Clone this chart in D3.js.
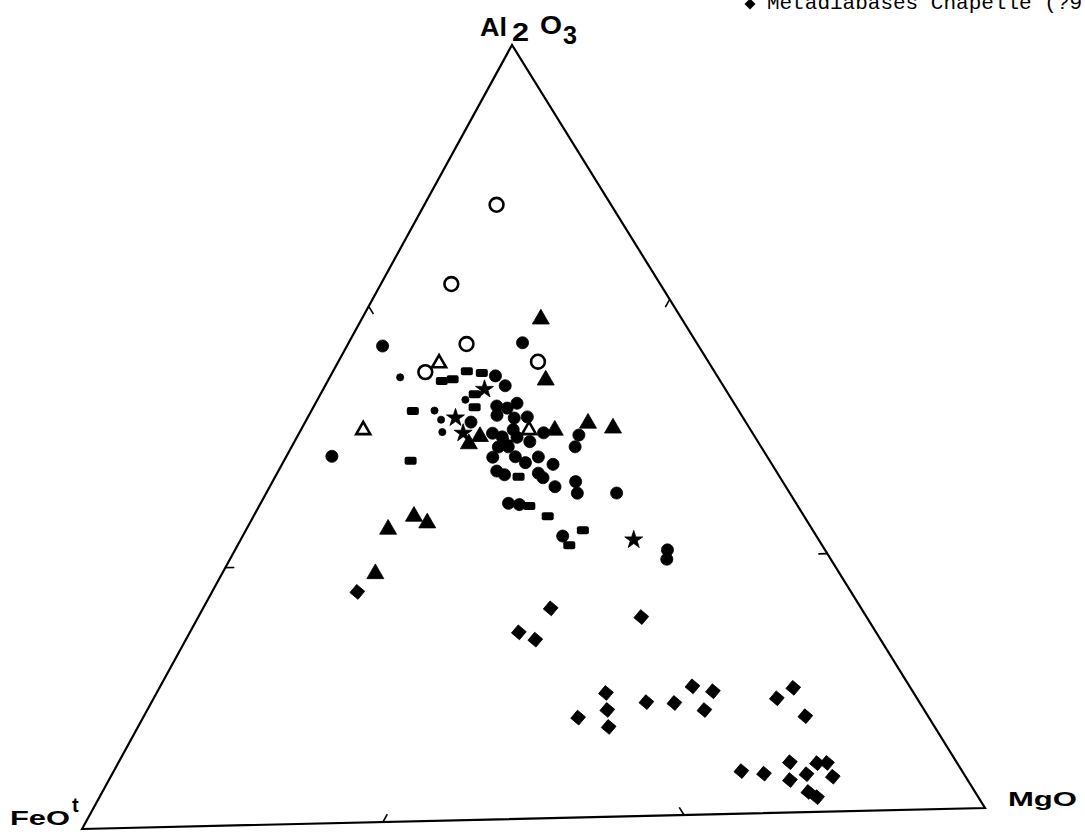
<!doctype html>
<html>
    <head>
        <script src="https://d3js.org/d3.v7.min.js"></script>
        <style>
            body,
            html {
                margin: 0;
                padding: 0;
                overflow: hidden;
                background: #fff;
            }
        </style>
    </head>
    <body>
        <script>
            // compositions, [FeOt, MgO, Al2O3] in %
            const openCircles = [
                [12.5, 8.1, 79.4], [22.8, 7.9, 69.3], [25.2, 13.3, 61.5],
                [18.6, 22.4, 59.0], [31.6, 10.4, 58.0],
            ];
            const openTriangles = [
                [29.5, 11.4, 59.1], [42.3, 7.0, 50.7], [24.2, 25.6, 50.2],
            ];
            const filledTriangles = [
                [15.4, 20.1, 64.5], [19.0, 24.4, 56.6], [17.3, 31.8, 50.9],
                [14.9, 34.9, 50.2], [21.4, 28.5, 50.1], [31.7, 19.7, 48.6],
                [30.0, 20.5, 49.5], [46.3, 15.9, 37.8], [42.6, 18.0, 39.4],
                [41.6, 19.9, 38.5], [50.7, 17.2, 32.1],
            ];
            const filledCircles = [
                [34.5, 4.0, 61.5], [19.0, 19.5, 61.5], [47.5, 5.1, 47.4],
                [24.2, 18.5, 57.3], [23.8, 20.2, 56.0], [30.0, 18.6, 51.4],
                [26.1, 20.5, 53.4], [25.1, 21.8, 53.1], [23.7, 22.6, 53.7],
                [26.7, 21.1, 52.2], [25.0, 23.2, 51.8], [23.5, 24.6, 51.9],
                [28.4, 21.7, 49.9], [27.6, 23.0, 49.4], [25.9, 23.8, 50.3],
                [26.0, 24.7, 49.3], [28.7, 23.2, 48.1], [27.6, 24.3, 48.1],
                [24.9, 26.4, 48.7], [22.8, 27.4, 49.8], [19.1, 31.5, 49.4],
                [20.3, 31.8, 47.9], [30.0, 23.2, 46.8], [27.5, 25.7, 46.8],
                [26.8, 27.2, 46.0], [25.0, 28.3, 46.7], [23.9, 30.4, 45.7],
                [30.5, 24.5, 45.0], [29.9, 25.6, 44.5], [26.1, 29.3, 44.6],
                [25.9, 30.1, 44.0], [25.2, 32.0, 42.8], [22.6, 34.0, 43.4],
                [23.2, 34.9, 41.9], [18.9, 39.3, 41.8], [31.4, 27.8, 40.8],
                [30.3, 29.1, 40.6], [27.7, 35.9, 36.4], [17.2, 48.5, 34.3],
                [17.9, 49.0, 33.1],
            ];
            const smallDots = [
                [34.7, 7.9, 57.4], [33.2, 13.8, 53.0], [33.1, 15.1, 51.8],
                [33.8, 16.0, 50.2], [29.1, 16.6, 54.3],
            ];
            const bars = [
                [30.4, 12.8, 56.8], [29.1, 13.9, 57.0], [27.0, 15.0, 58.0],
                [25.5, 16.8, 57.7], [27.7, 17.3, 55.0], [28.6, 18.1, 53.3],
                [35.6, 11.4, 53.0], [39.2, 14.2, 46.6], [28.5, 27.3, 44.2],
                [29.3, 30.3, 40.4], [28.0, 33.0, 39.0], [25.1, 37.8, 37.1],
                [27.6, 37.2, 35.2],
            ];
            const stars = [
                [26.3, 18.1, 55.6], [31.4, 16.6, 52.0], [31.6, 18.4, 50.0],
                [20.2, 44.1, 35.7], [27.5, 23.9, 48.6],
            ];
            const diamonds = [
                [53.9, 16.3, 29.8], [33.9, 39.0, 27.1], [39.0, 36.9, 24.1],
                [37.7, 39.2, 23.1], [24.6, 49.7, 25.7], [38.3, 48.8, 12.9],
                [33.6, 50.4, 16.0], [34.6, 51.6, 13.8], [35.6, 52.8, 11.6],
                [29.8, 55.5, 14.7], [26.8, 58.7, 14.5], [23.7, 59.7, 16.6],
                [21.8, 62.3, 15.9], [24.0, 62.5, 13.5], [15.3, 69.9, 14.8],
                [12.8, 71.1, 16.1], [13.4, 74.2, 12.4], [24.1, 70.4, 5.5],
                [21.8, 73.1, 5.1], [18.2, 75.3, 6.5], [19.4, 76.4, 4.2],
                [17.2, 77.9, 4.9], [15.3, 78.4, 6.3], [14.2, 79.5, 6.3],
                [14.5, 81.0, 4.5], [18.2, 79.2, 2.6], [17.6, 80.5, 1.9],
            ];
            const tickValues = [100 / 3, 200 / 3];

            const width = 1085;
            const height = 840;
            const svg = d3
                .create("svg")
                .attr("width", width)
                .attr("height", height)
                .attr("viewBox", [0, 0, width, height]);

            // corners of the (slightly skewed) scanned triangle
            const vFe = [82, 829];
            const vMg = [985, 808];
            const vAl = [512, 45];
            const frac = d3.scaleLinear().domain([0, 100]).range([0, 1]);

            function project(d) {
                const s = d[0] + d[1] + d[2];
                const f = frac((d[0] / s) * 100);
                const m = frac((d[1] / s) * 100);
                const a = frac((d[2] / s) * 100);
                return [
                    f * vFe[0] + m * vMg[0] + a * vAl[0],
                    f * vFe[1] + m * vMg[1] + a * vAl[1],
                ];
            }

            const g = svg.append("g");

            g.append("path")
                .attr("d", d3.line()([vFe, vMg, vAl]) + "Z")
                .attr("fill", "none")
                .attr("stroke", "#000")
                .attr("stroke-width", 2.2)
                .attr("stroke-linejoin", "miter");

            // inward ticks on each side
            const sides = [
                [vFe, vMg],
                [vMg, vAl],
                [vAl, vFe],
            ];
            const cx = (vFe[0] + vMg[0] + vAl[0]) / 3;
            const cy = (vFe[1] + vMg[1] + vAl[1]) / 3;
            sides.forEach(([p, q]) => {
                tickValues.forEach((t) => {
                    const k = frac(t);
                    const x = p[0] + (q[0] - p[0]) * k;
                    const y = p[1] + (q[1] - p[1]) * k;
                    const dx = cx - x;
                    const dy = cy - y;
                    const len = Math.hypot(dx, dy);
                    g.append("line")
                        .attr("x1", x)
                        .attr("y1", y)
                        .attr("x2", x + (dx / len) * 9)
                        .attr("y2", y + (dy / len) * 9)
                        .attr("stroke", "#000")
                        .attr("stroke-width", 1.6);
                });
            });

            function plot(data, type, size, filled, rotate) {
                g.append("g")
                    .selectAll("path")
                    .data(data)
                    .join("path")
                    .attr("d", d3.symbol().type(type).size(size))
                    .attr("transform", (d) => {
                        const [x, y] = project(d);
                        return `translate(${x},${y}) rotate(${rotate || 0})`;
                    })
                    .attr("fill", filled ? "#000" : "#fff")
                    .attr("stroke", "#000")
                    .attr("stroke-width", filled ? 0.8 : 2.6);
            }

            plot(diamonds, d3.symbolSquare, 110, true, 40);
            plot(filledCircles, d3.symbolCircle, 115, true);
            plot(smallDots, d3.symbolCircle, 40, true);
            plot(filledTriangles, d3.symbolTriangle, 125, true);
            plot(stars, d3.symbolStar, 100, true);
            plot(openTriangles, d3.symbolTriangle, 85, false);
            plot(openCircles, d3.symbolCircle, 150, false);

            g.append("g")
                .selectAll("rect")
                .data(bars)
                .join("rect")
                .attr("x", (d) => project(d)[0] - 6)
                .attr("y", (d) => project(d)[1] - 4)
                .attr("width", 12)
                .attr("height", 8)
                .attr("rx", 2)
                .attr("fill", "#000");

            // corner labels
            const lab = svg
                .append("g")
                .attr("font-family", "Liberation Sans, Arial, sans-serif")
                .attr("font-weight", "bold")
                .attr("fill", "#000");

            const al = lab.append("text").attr("font-size", 25);
            al.append("tspan")
                .attr("x", 480)
                .attr("y", 36)
                .attr("textLength", 27)
                .attr("lengthAdjust", "spacingAndGlyphs")
                .text("Al");
            al.append("tspan")
                .attr("x", 512)
                .attr("y", 41)
                .attr("textLength", 17)
                .attr("lengthAdjust", "spacingAndGlyphs")
                .text("2");
            al.append("tspan")
                .attr("x", 540)
                .attr("y", 34)
                .attr("textLength", 22)
                .attr("lengthAdjust", "spacingAndGlyphs")
                .text("O");
            al.append("tspan")
                .attr("x", 563)
                .attr("y", 44)
                .attr("textLength", 14)
                .attr("lengthAdjust", "spacingAndGlyphs")
                .text("3");

            const fe = lab
                .append("text")
                .attr("x", 10)
                .attr("y", 825)
                .attr("font-size", 21);
            fe.append("tspan")
                .attr("textLength", 60)
                .attr("lengthAdjust", "spacingAndGlyphs")
                .text("FeO");
            fe.append("tspan")
                .attr("dy", -13)
                .attr("dx", 2)
                .attr("font-size", 20)
                .text("t");

            lab.append("text")
                .attr("x", 1008)
                .attr("y", 806)
                .attr("font-size", 21)
                .attr("textLength", 69)
                .attr("lengthAdjust", "spacingAndGlyphs")
                .text("MgO");

            // legend line cut off at the top of the scan
            const leg = svg.append("g");
            leg.append("path")
                .attr("d", d3.symbol().type(d3.symbolSquare).size(60))
                .attr("transform", "translate(750,4) rotate(45)")
                .attr("fill", "#000");
            leg.append("text")
                .attr("x", 767)
                .attr("y", 9)
                .attr("font-family", "Liberation Mono, Courier New, monospace")
                .attr("font-size", 21)
                .text("Metadiabases Chapelle (?9");

            document.body.appendChild(svg.node());
        </script>
    </body>
</html>
